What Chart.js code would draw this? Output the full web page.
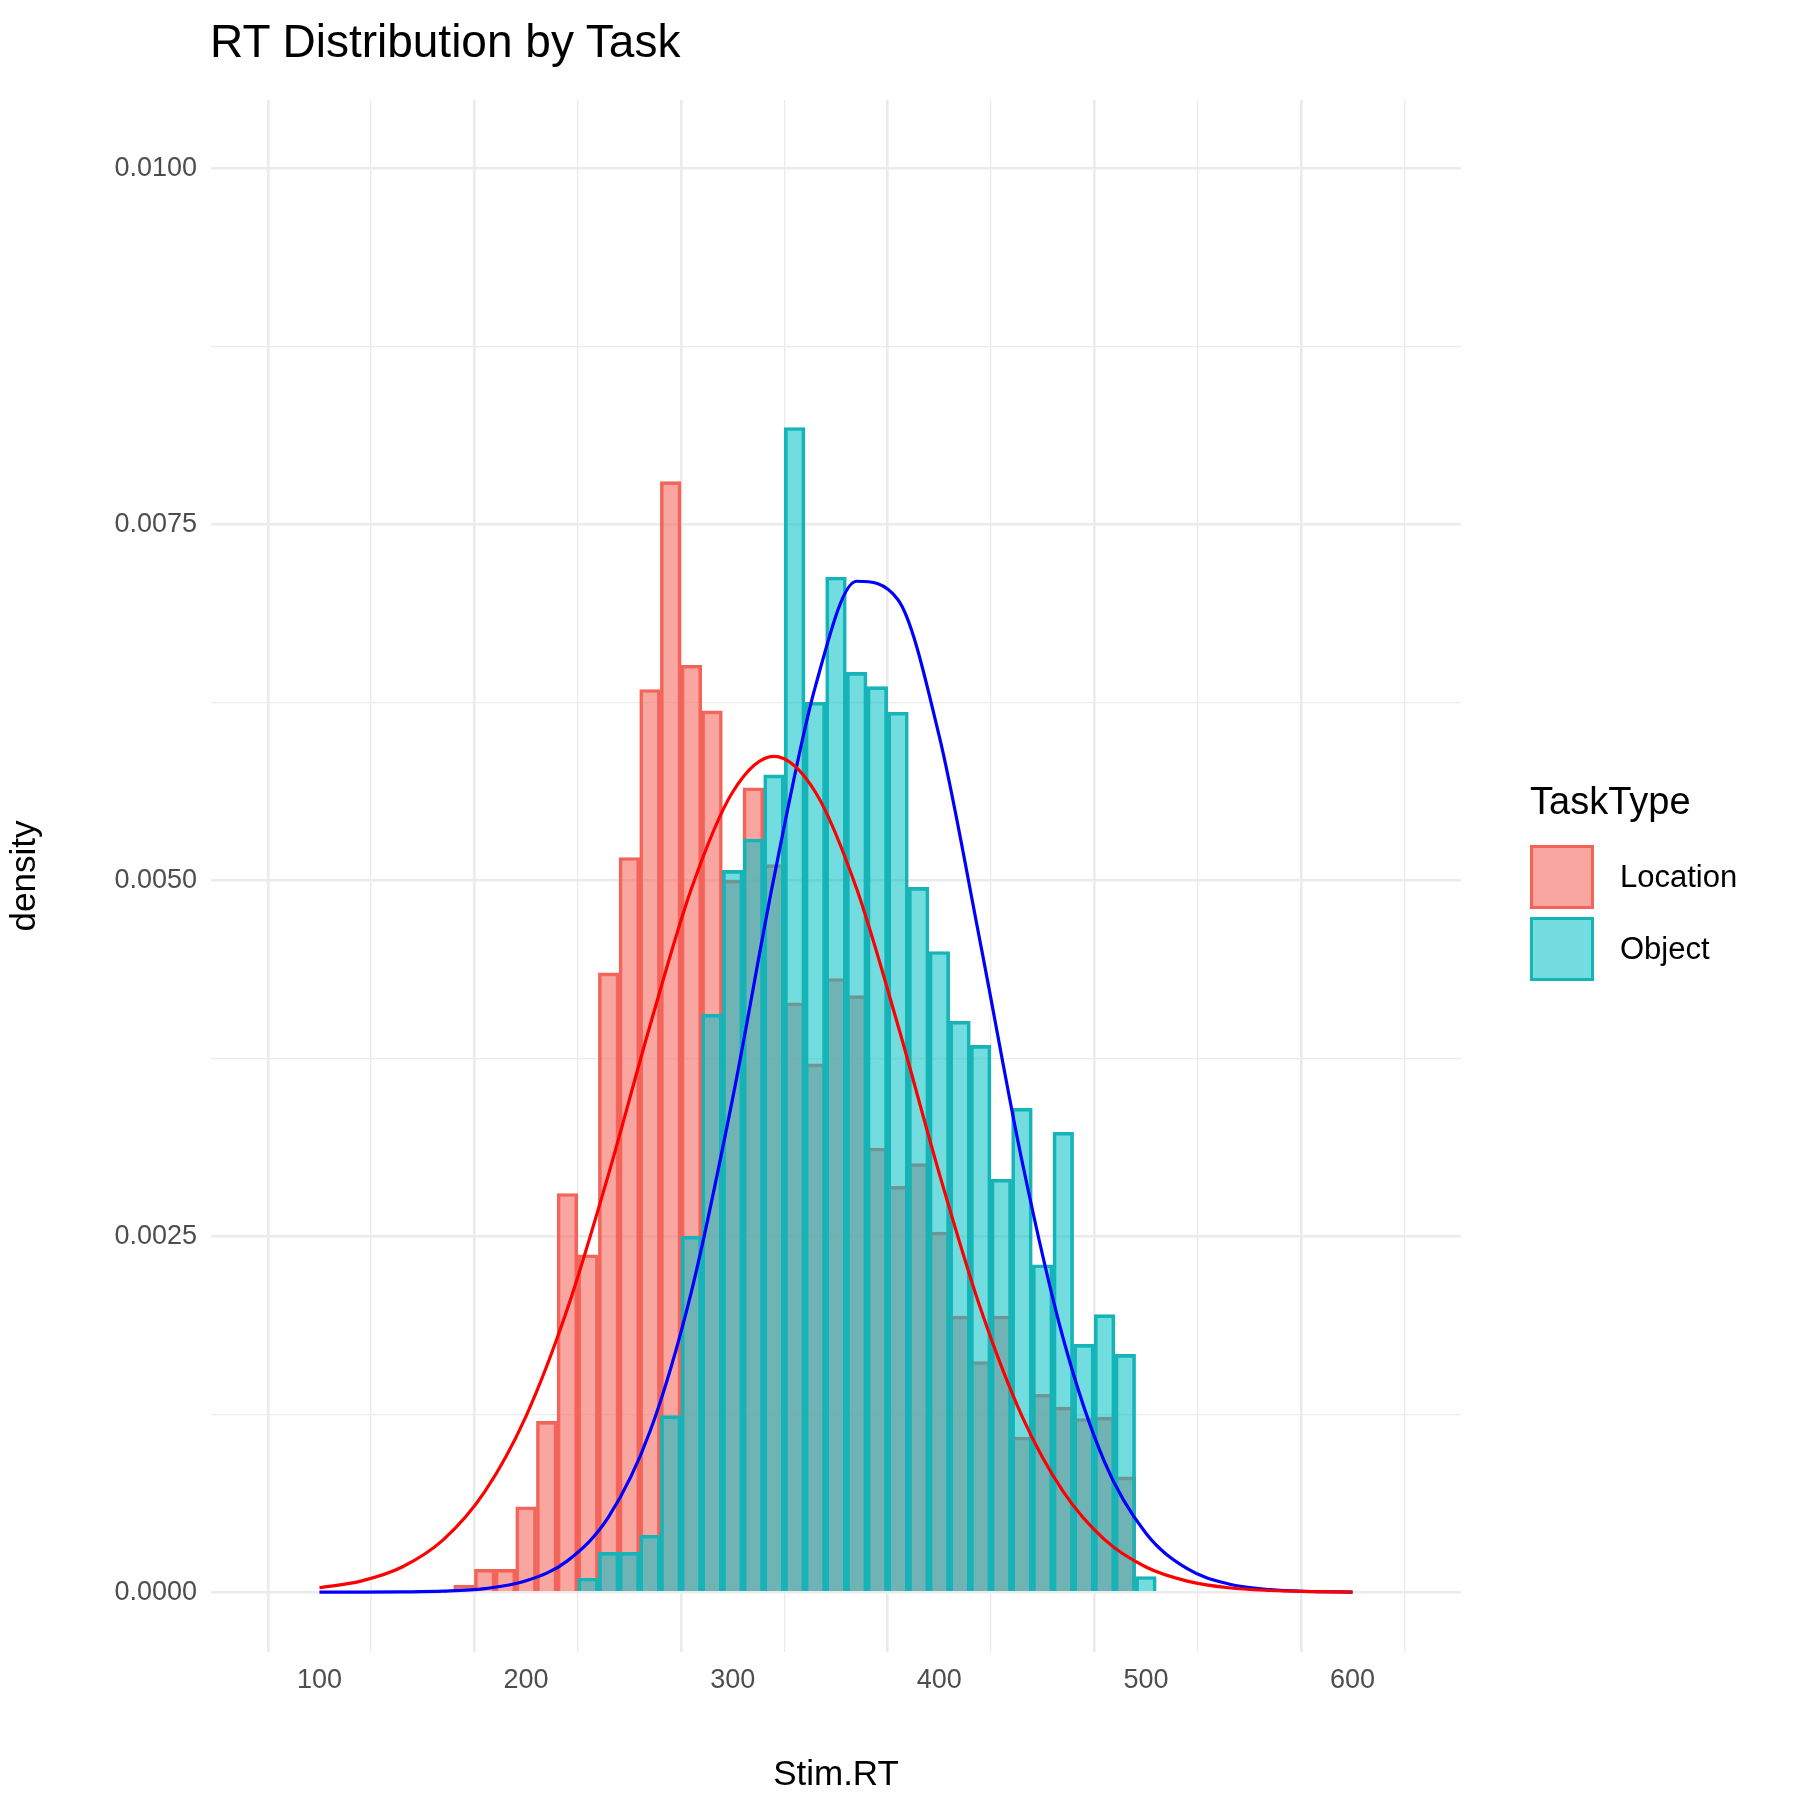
<!DOCTYPE html>
<html>
<head>
<meta charset="utf-8">
<script src="https://cdn.jsdelivr.net/npm/chart.js@4"></script>
<style>
    body { margin: 0; background: #fff; font-family: 'Liberation Sans', Arial, sans-serif; }
    #wrap { position: relative; width: 1800px; height: 1800px; }
    canvas { position: absolute; left: 0; top: 0; }
    #title { position: absolute; left: 210px; top: 14px; font-size: 46px; color: #000; }
    #legend { position: absolute; left: 1530px; top: 780px; color: #000; }
    #legend .head { font-size: 38px; margin-bottom: 18px; }
    #legend .row { display: flex; align-items: center; height: 72px; font-size: 31px; }
    #legend .key { width: 64px; height: 64px; box-sizing: border-box; border: 3px solid; margin-right: 26px; }
</style>
</head>
<body>
<div id="wrap">
    <canvas id="chart" width="1800" height="1800"></canvas>
    <div id="title">RT Distribution by Task</div>
    <div id="legend">
        <div class="head">TaskType</div>
        <div class="row"><div class="key" style="background:rgba(248,118,109,0.65);border-color:#F2645A"></div>Location</div>
        <div class="row"><div class="key" style="background:rgba(0,191,196,0.55);border-color:#17B3B7"></div>Object</div>
    </div>
</div>
<script>
// histogram bin centres (binwidth 10)
const binCenters = [170, 180, 190, 200, 210, 220, 230, 240, 250, 260, 270, 280, 290, 300, 310, 320, 330, 340,
    350, 360, 370, 380, 390, 400, 410, 420, 430, 440, 450, 460, 470, 480, 490, 500];
const locationDensity = [0.00005, 0.00016, 0.00016, 0.0006, 0.0012, 0.0028, 0.00237, 0.00435, 0.00516, 0.00634, 0.0078, 0.00651,
    0.00619, 0.0050, 0.00565, 0.00511, 0.00414, 0.00371, 0.00431, 0.00419, 0.00312, 0.00285, 0.00301, 0.00253,
    0.00194, 0.00162, 0.00194, 0.00109, 0.00139, 0.0013, 0.00122, 0.00123, 0.00081, 0];
const objectDensity = [0, 0, 0, 0, 0, 0, 0.0001, 0.00028, 0.00028, 0.0004, 0.00124, 0.0025,
    0.00406, 0.00507, 0.00529, 0.00574, 0.00818, 0.00625, 0.00713, 0.00646, 0.00636, 0.00618, 0.00495, 0.0045,
    0.00401, 0.00384, 0.0029, 0.0034, 0.0023, 0.00323, 0.00174, 0.00195, 0.00167, 0.00011];

// fitted normal curves, read every 20 ms
const curveX = [100, 120, 140, 160, 180, 200, 220, 240, 260, 280, 300, 320, 340, 360, 380, 400, 420,
    440, 460, 480, 500, 520, 540, 560, 580, 600];
const locationCurve = [0.000031, 0.000078, 0.000177, 0.000369, 0.000706, 0.001237, 0.00199, 0.00294, 0.00398, 0.00494,
    0.00562, 0.00587, 0.00562, 0.00494, 0.00398, 0.00294, 0.00199, 0.001237, 0.000706, 0.000369, 0.000177,
    0.000078, 0.000031, 0.000012, 0.000004, 0.000001];
const objectCurve = [0, 0, 0.000002, 0.000007, 0.000025, 0.00008, 0.00022, 0.00053, 0.00113, 0.00211,
    0.00347, 0.00502, 0.00636, 0.0071, 0.00697, 0.00601, 0.00455, 0.00303, 0.00178, 0.000914, 0.000414,
    0.000165, 0.000058, 0.000018, 0.000005, 0.000001];

const xTicks = [100, 150, 200, 250, 300, 350, 400, 450, 500, 550, 600];
const yTicks = [0, 0.00125, 0.0025, 0.00375, 0.005, 0.00625, 0.0075, 0.00875, 0.01];

const toPoints = (xs, ys) => xs.map((x, i) => ({ x: x, y: ys[i] }));
const isMajor = (v, step) => Math.abs(v / step - Math.round(v / step)) < 1e-6;
const gridWidth = step => ctx => (ctx.tick && isMajor(ctx.tick.value, step)) ? 2.6 : 1.3;

new Chart(document.getElementById('chart'), {
    type: 'bar',
    data: {
        datasets: [{
            type: 'line',
            data: toPoints(curveX, locationCurve),
            borderColor: '#FF0000',
            borderWidth: 3.2,
            pointRadius: 0,
            cubicInterpolationMode: 'monotone',
            order: 0
        }, {
            type: 'line',
            data: toPoints(curveX, objectCurve),
            borderColor: '#0000FF',
            borderWidth: 3.2,
            pointRadius: 0,
            cubicInterpolationMode: 'monotone',
            order: 0
        }, {
            label: 'Object',
            data: toPoints(binCenters, objectDensity),
            backgroundColor: 'rgba(0,191,196,0.55)',
            borderColor: '#17B3B7',
            borderWidth: 3,
            barPercentage: 1,
            categoryPercentage: 1,
            grouped: false,
            order: 1
        }, {
            label: 'Location',
            data: toPoints(binCenters, locationDensity),
            backgroundColor: 'rgba(248,118,109,0.65)',
            borderColor: '#F2645A',
            borderWidth: 3,
            barPercentage: 1,
            categoryPercentage: 1,
            grouped: false,
            order: 2
        }]
    },
    options: {
        responsive: false,
        animation: false,
        layout: { padding: { top: 100, right: 339, left: 0, bottom: 0 } },
        plugins: { legend: { display: false }, tooltip: { enabled: false } },
        scales: {
            x: {
                type: 'linear',
                min: 75,
                max: 625,
                afterBuildTicks: axis => { axis.ticks = xTicks.map(v => ({ value: v })); },
                afterFit: axis => { axis.height = 148; },
                grid: {
                    color: '#EBEBEB',
                    lineWidth: gridWidth(100),
                    drawTicks: false
                },
                border: { display: false },
                ticks: {
                    padding: 12,
                    color: '#4D4D4D',
                    font: { family: 'Liberation Sans', size: 27 },
                    callback: v => isMajor(v, 100) ? v : ''
                },
                title: {
                    display: true,
                    text: 'Stim.RT',
                    color: '#000',
                    font: { family: 'Liberation Sans', size: 35 },
                    padding: { top: 4 }
                }
            },
            y: {
                min: -0.00042,
                max: 0.01048,
                afterBuildTicks: axis => { axis.ticks = yTicks.map(v => ({ value: v })); },
                afterFit: axis => { axis.width = 211; },
                grid: {
                    color: '#EBEBEB',
                    lineWidth: gridWidth(0.0025),
                    drawTicks: false
                },
                border: { display: false },
                ticks: {
                    padding: 14,
                    color: '#4D4D4D',
                    font: { family: 'Liberation Sans', size: 27 },
                    callback: v => isMajor(v, 0.0025) ? v.toFixed(4) : ''
                },
                title: {
                    display: true,
                    text: 'density',
                    color: '#000',
                    font: { family: 'Liberation Sans', size: 35 },
                    padding: { bottom: 6 }
                }
            }
        }
    }
});
</script>
</body>
</html>
